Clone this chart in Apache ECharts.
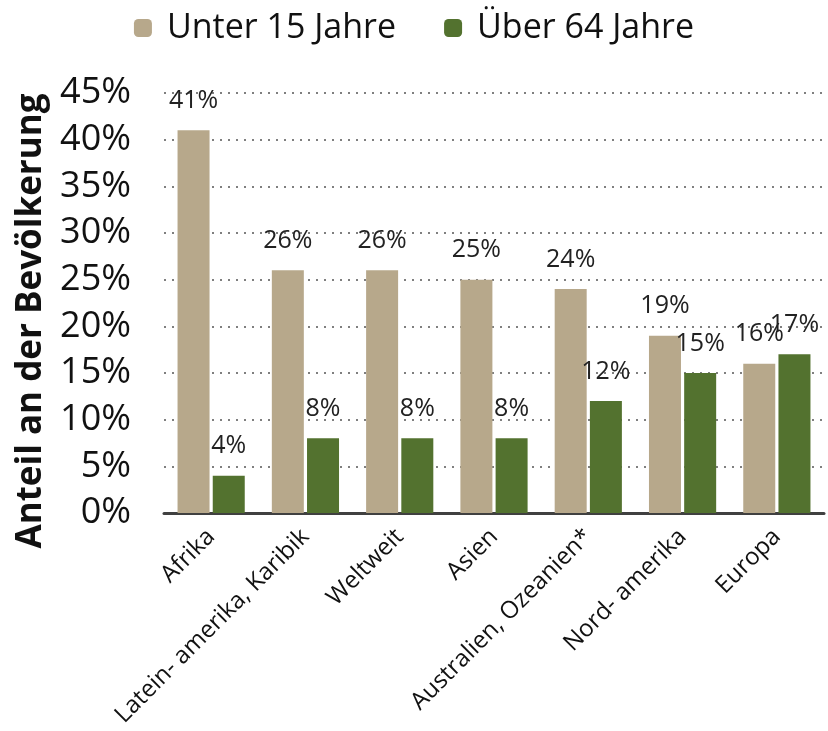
<!DOCTYPE html>
<html>
<head>
    <meta charset="utf-8">
    <title>Bevölkerung</title>
    <script src="https://cdn.jsdelivr.net/npm/echarts@6/dist/echarts.min.js"></script>
</head>
<body style="margin:0">
    <div id="main" style="width:828px;height:731px;"></div>
    <script type="text/javascript">
        var regionen = ['Afrika', 'Latein- amerika, Karibik', 'Weltweit', 'Asien', 'Australien, Ozeanien*', 'Nord- amerika', 'Europa'];
        var unter15 = [41, 26, 26, 25, 24, 19, 16];
        var ueber64 = [4, 8, 8, 8, 12, 15, 17];
        var schrift = '"Open Sans", "Noto Sans", sans-serif';

        var myChart = echarts.init(document.getElementById('main'));
        var option = {
            textStyle: { fontFamily: schrift },
            animation: false,
            legend: {
                top: 6,
                left: 'center',
                itemWidth: 18,
                itemHeight: 18,
                itemGap: 48,
                textStyle: { fontSize: 34, color: '#111', fontFamily: schrift, padding: [0, 0, 0, 10] },
                data: ['Unter 15 Jahre', 'Über 64 Jahre']
            },
            grid: {
                left: 164,
                right: 4,
                top: 93,
                bottom: 218,
                outerBoundsMode: 'none'
            },
            xAxis: {
                type: 'category',
                data: regionen,
                axisLine: { lineStyle: { color: '#404040', width: 3 } },
                axisTick: { show: false },
                axisLabel: {
                    rotate: 45,
                    interval: 0,
                    fontSize: 24,
                    color: '#111',
                    margin: 20
                }
            },
            yAxis: {
                type: 'value',
                min: 0,
                max: 45,
                interval: 5,
                name: 'Anteil an der Bevölkerung',
                nameLocation: 'middle',
                nameGap: 115,
                nameTextStyle: { fontSize: 35, fontWeight: 'bold', color: '#111', padding: [0, 36, 0, 0] },
                axisLine: { show: false },
                axisTick: { show: false },
                axisLabel: {
                    fontSize: 36,
                    color: '#111',
                    margin: 33,
                    formatter: '{value}%'
                },
                splitLine: { lineStyle: { color: '#555', type: [2, 6], width: 1.5 } }
            },
            series: [
            {
                name: 'Unter 15 Jahre',
                type: 'bar',
                data: unter15,
                barWidth: 32,
                barGap: '10%',
                itemStyle: { color: '#b7a88b' },
                label: {
                    show: true,
                    position: 'top',
                    distance: 17,
                    fontSize: 25,
                    color: '#222',
                    formatter: '{c}%'
                }
            },
            {
                name: 'Über 64 Jahre',
                type: 'bar',
                data: ueber64,
                barWidth: 32,
                itemStyle: { color: '#53722f' },
                label: {
                    show: true,
                    position: 'top',
                    distance: 17,
                    fontSize: 25,
                    color: '#222',
                    formatter: '{c}%'
                }
            }
            ]
        };
        myChart.setOption(option);
    </script>
</body>
</html>
